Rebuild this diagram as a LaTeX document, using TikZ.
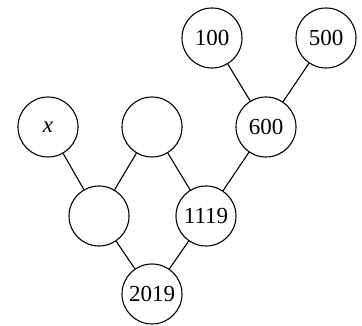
\documentclass[tikz,border=0pt]{standalone}
\usepackage{fontspec}
\setmainfont{Liberation Serif}
\begin{document}
\begin{tikzpicture}[x=1pt,y=1pt,
  nd/.style={circle,draw,line width=1.1pt,minimum size=60pt,inner sep=0pt,font=\fontsize{23}{23}\selectfont},
  ln/.style={line width=1.1pt}]
\useasboundingbox (0,0) rectangle (362,326);
\node[nd] (a) at (212,288) {100};
\node[nd] (b) at (326,288) {500};
\node[nd] (x) at (48,199) {\textit{x}};
\node[nd] (e) at (152,199) {};
\node[nd] (s) at (266,199) {600};
\node[nd] (f) at (99,110) {};
\node[nd] (t) at (206,110) {1119};
\node[nd] (z) at (152,32) {2019};
\draw[ln] (a) -- (s);
\draw[ln] (b) -- (s);
\draw[ln] (s) -- (t);
\draw[ln] (e) -- (t);
\draw[ln] (x) -- (f);
\draw[ln] (e) -- (f);
\draw[ln] (f) -- (z);
\draw[ln] (t) -- (z);
\end{tikzpicture}
\end{document}
